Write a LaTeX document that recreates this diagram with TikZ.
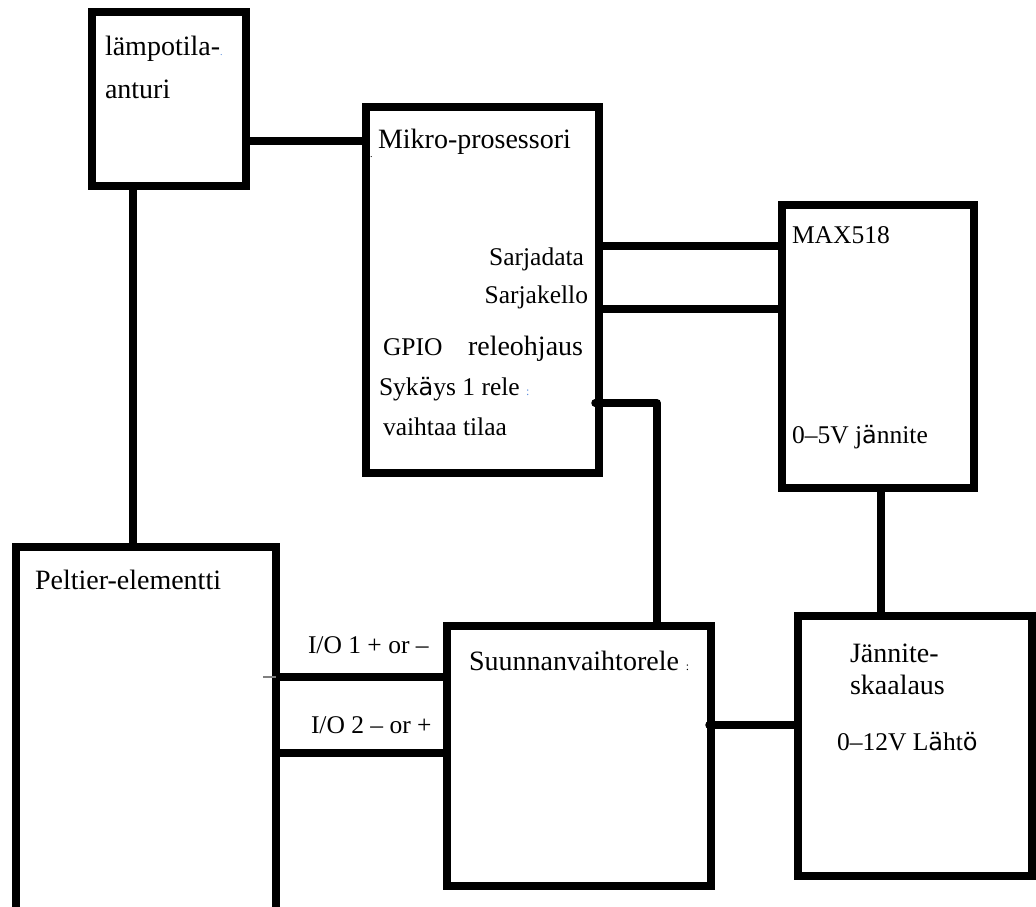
\documentclass[tikz,border=0pt]{standalone}
\usepackage{fontspec}
\setmainfont{Liberation Serif}
\newfontfamily\sfb{DejaVu Sans}
\definecolor{dotblue}{RGB}{90,140,220}
\tikzset{
  box/.style={draw, line width=7.5pt, inner sep=0pt, outer sep=0pt, fill=white},
  wire/.style={line width=7.5pt},
  lbl/.style={inner sep=0pt, outer sep=0pt, font=\fontsize{28}{32}\selectfont},
  slbl/.style={inner sep=0pt, outer sep=0pt, font=\fontsize{25.5}{30}\selectfont},
}
\newcommand{\fbA}{{\sfb\fontsize{24}{28}\selectfont ä}}
\newcommand{\fbO}{{\sfb\fontsize{24}{28}\selectfont ö}}
\begin{document}
\begin{tikzpicture}[x=1pt,y=-1pt]
\useasboundingbox (0,0) rectangle (1036,906);
% boxes
\node[box, minimum width=154pt, minimum height=174pt] (temp) at (169,99) {};
\node[box, minimum width=233pt, minimum height=366pt] (mikro) at (482.5,290) {};
\node[box, minimum width=192pt, minimum height=283pt] (max) at (878,346.5) {};
\node[box, minimum width=260pt, minimum height=365pt] (pelt) at (146,729.5) {};
\node[box, minimum width=264pt, minimum height=260pt] (suun) at (579,756) {};
\node[box, minimum width=234pt, minimum height=260pt] (jan) at (915,746) {};
% helper coordinates
\coordinate (yTM) at (0,141);
\coordinate (xTP) at (133,0);
\coordinate (ySD) at (0,246);
\coordinate (ySK) at (0,309);
\coordinate (relA) at (595,403);
\coordinate (relB) at (657,403);
\coordinate (yIOa) at (0,677);
\coordinate (yIOb) at (0,753);
\coordinate (ySJ) at (0,725);
\coordinate (xMJ) at (881,0);
\coordinate (tickA) at (263,677);
% connectors
\draw[wire] (temp.east |- yTM) -- (mikro.west |- yTM);
\draw[wire] (temp.south -| xTP) -- (pelt.north -| xTP);
\draw[wire] (mikro.east |- ySD) -- (max.west |- ySD);
\draw[wire] (mikro.east |- ySK) -- (max.west |- ySK);
\draw[wire, line cap=round, line join=round] (relA) -- (relB) -- (suun.north -| relB);
\draw[wire] (pelt.east |- yIOa) -- (suun.west |- yIOa);
\draw[wire] (pelt.east |- yIOb) -- (suun.west |- yIOb);
\draw[wire, line cap=round] ([xshift=-2pt]suun.east |- ySJ) -- (jan.west |- ySJ);
\draw[wire] (max.south -| xMJ) -- (jan.north -| xMJ);
\draw[gray, line width=1.5pt] (tickA) -- (pelt.east |- tickA);
% texts
\node[lbl, anchor=base west] (t1) at (105,55) {lämpotila-{\color{dotblue}\fontsize{10}{10}\selectfont .}};
\node[lbl, anchor=base west] (t2) at (105,98) {anturi};
\node[lbl, anchor=base west] (t3) at (378,148) {Mikro-prosessori};
\node[inner sep=0pt, anchor=base west, font=\fontsize{10}{10}\selectfont] (t3b) at (370,157) {.};
\node[slbl, anchor=base east] (t4) at (584,265) {Sarjadata};
\node[slbl, anchor=base east] (t5) at (588,303) {Sarjakello};
\node[slbl, anchor=base west] (t6) at (383,355) {GPIO};
\node[lbl, anchor=base west] (t7) at (468,355) {releohjaus};
\node[slbl, anchor=base west] (t8) at (379,395) {Syk\fbA ys 1 rele {\color{dotblue}\fontsize{12}{12}\selectfont :}};
\node[slbl, anchor=base west] (t9) at (383,435) {vaihtaa tilaa};
\node[slbl, anchor=base west] (t10) at (792,243) {MAX518};
\node[slbl, anchor=base west] (t11) at (792,443) {0–5V j\fbA nnite};
\node[lbl, anchor=base west] (t12) at (35,589) {Peltier-elementti};
\node[slbl, anchor=base west] (t13) at (308,653) {I/O 1 + or –};
\node[slbl, anchor=base west] (t14) at (311,733) {I/O 2 – or +};
\node[lbl, anchor=base west] (t15) at (469,670) {Suunnanvaihtorele {\fontsize{12}{12}\selectfont :}};
\node[lbl, anchor=base west] (t16) at (850,662) {Jännite-};
\node[lbl, anchor=base west] (t17) at (850,694) {skaalaus};
\node[slbl, anchor=base west] (t18) at (837,750) {0–12V L\fbA ht\fbO};
\end{tikzpicture}
\end{document}
